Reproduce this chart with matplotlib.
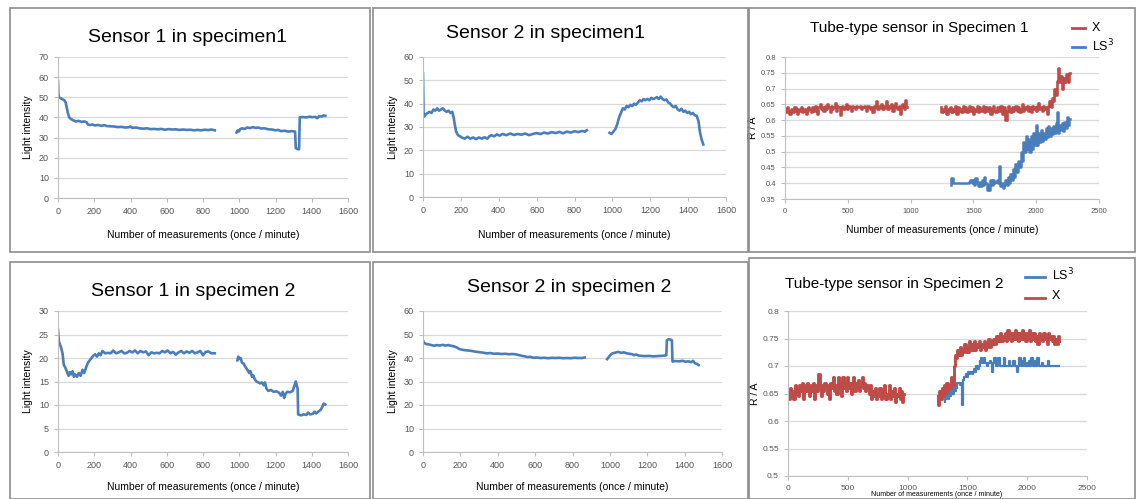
import numpy as np
import matplotlib.pyplot as plt
from matplotlib.patches import Rectangle

plt.rcParams['font.family'] = ['Liberation Sans', 'DejaVu Sans']

BLUE = '#4a7ebb'
RED = '#be4b48'

# ---- Sensor 1 in specimen1  (measurement no., light intensity)
s11_seg1 = [(0, 58), (2, 52), (5, 50), (15, 49.5), (25, 49), (35, 48.5), (42, 47.5), (48, 45), (55, 42), (62, 40),
            (72, 39.2), (85, 38.5), (100, 38), (115, 38.3), (130, 37.8), (145, 38), (158, 37.6), (165, 36.5),
            (175, 36.2), (190, 36.5), (205, 36), (220, 36.3), (240, 35.8), (255, 36.2), (270, 35.7), (290, 35.6),
            (310, 35.5), (330, 35.2), (350, 35.3), (370, 35), (390, 35.1), (400, 35.5), (410, 34.8), (430, 35),
            (450, 34.6), (470, 34.4), (490, 34.6), (510, 34.2), (530, 34.3), (550, 34.1), (570, 34.3), (590, 33.9),
            (610, 34.2), (630, 34), (650, 34.1), (670, 33.8), (690, 34), (710, 33.8), (730, 33.9), (750, 33.6),
            (770, 33.8), (790, 33.6), (810, 33.9), (830, 33.7), (845, 34), (865, 33.6)]
s11_seg2 = [(985, 32.5), (990, 33.5), (998, 33), (1005, 34.2), (1015, 34.6), (1030, 34.3), (1045, 35), (1060, 34.7),
            (1075, 35.2), (1090, 34.8), (1105, 35), (1120, 34.5), (1140, 34.6), (1160, 34.1), (1180, 34),
            (1200, 33.6), (1215, 33.8), (1230, 33.2), (1250, 33.4), (1270, 33), (1290, 33.2), (1308, 33),
            (1312, 24.8), (1320, 24.3), (1330, 24.2), (1334, 40), (1350, 40.2), (1370, 40), (1390, 40.4),
            (1400, 40.1), (1420, 40.3), (1430, 39.6), (1440, 40.6), (1455, 40.5), (1465, 41), (1475, 40.8)]

# ---- Sensor 2 in specimen1
s21_seg1 = [(0, 53), (3, 35), (8, 34.5), (15, 35.5), (25, 36), (35, 36.5), (45, 36), (55, 37.5), (65, 37), (75, 38),
            (85, 37), (95, 37.5), (105, 38), (115, 37), (125, 36.5), (135, 37), (145, 36), (155, 36.5), (162, 34),
            (168, 31), (175, 28), (185, 26.5), (195, 26), (205, 25.5), (220, 25), (235, 25.8), (250, 25),
            (265, 25.5), (280, 24.8), (295, 25.5), (310, 25), (325, 25.6), (340, 25), (350, 26), (360, 26.5),
            (375, 26), (390, 26.8), (405, 26.3), (420, 27), (440, 26.5), (460, 27.2), (480, 26.6), (500, 27),
            (520, 26.7), (540, 27.2), (560, 26.5), (580, 27), (600, 27.4), (620, 27), (640, 27.6), (660, 27.2),
            (680, 27.8), (700, 27.4), (720, 27.9), (740, 27.3), (760, 28), (780, 27.6), (800, 28.2), (820, 27.8),
            (840, 28.3), (855, 28), (865, 28.6)]
s21_seg2 = [(985, 27.5), (995, 27), (1005, 28), (1015, 29), (1025, 31), (1035, 34), (1045, 36), (1055, 38),
            (1065, 37.5), (1075, 39), (1085, 38.5), (1095, 39.5), (1105, 39), (1115, 40), (1125, 39.5),
            (1135, 40.5), (1145, 41.5), (1155, 41), (1165, 42), (1175, 41.5), (1185, 42), (1195, 41.5),
            (1205, 42.5), (1215, 42), (1225, 42.3), (1235, 42.8), (1245, 42), (1255, 43), (1265, 42),
            (1275, 41.5), (1285, 41.8), (1295, 40.5), (1305, 40), (1315, 39), (1325, 38.5), (1335, 39),
            (1345, 37.5), (1355, 37), (1365, 37.8), (1375, 36.5), (1385, 37), (1395, 36), (1405, 36.5),
            (1415, 35.5), (1425, 36), (1435, 35), (1445, 34.8), (1455, 32.5), (1462, 28), (1470, 25), (1480, 22.5)]

# ---- Sensor 1 in specimen 2
s12_seg1 = [(0, 26), (5, 23.5), (15, 22.5), (25, 21), (32, 18.5), (40, 18), (50, 17), (58, 16.2), (65, 17),
            (72, 16.5), (80, 17.2), (88, 16), (95, 16.5), (105, 16), (115, 16.8), (125, 16.2), (135, 17.5),
            (145, 16.8), (155, 18), (165, 19), (175, 19.5), (185, 20), (195, 20.5), (205, 20.8), (215, 20.3),
            (225, 21), (235, 20.6), (245, 21.5), (260, 21), (275, 21.1), (290, 21), (305, 21.6), (320, 21),
            (335, 21.2), (350, 21.5), (365, 21), (380, 21.1), (395, 21.5), (410, 21.2), (425, 21.6), (440, 21),
            (455, 21.5), (470, 21.2), (485, 21.4), (500, 20.6), (515, 21.2), (530, 21), (545, 21.1), (560, 21),
            (575, 21.5), (590, 21.2), (605, 21.6), (620, 21), (635, 21.3), (650, 20.7), (665, 21.2), (680, 21.5),
            (695, 21), (710, 21.4), (725, 21.1), (740, 21.5), (755, 21), (770, 21.2), (785, 21.5), (800, 20.6),
            (815, 21.3), (830, 21.4), (845, 21), (865, 21)]
s12_seg2 = [(990, 19.5), (995, 20.3), (1000, 19.8), (1008, 20), (1015, 19), (1025, 18.8), (1035, 18), (1045, 17.5),
            (1055, 16.8), (1062, 17.2), (1070, 16), (1078, 16.3), (1085, 15.5), (1095, 15), (1105, 14.8),
            (1115, 14.6), (1125, 14.8), (1135, 14.2), (1142, 14.8), (1150, 13.5), (1160, 13), (1175, 13.2),
            (1190, 12.8), (1205, 12.9), (1220, 12.6), (1230, 12), (1240, 12.8), (1248, 11.5), (1256, 12.4),
            (1265, 12.8), (1280, 12.7), (1295, 13), (1305, 14.2), (1312, 15), (1318, 14), (1322, 13.5),
            (1325, 8), (1340, 7.8), (1355, 8), (1370, 7.9), (1380, 8.4), (1390, 8), (1405, 8.1), (1415, 8.6),
            (1425, 8.2), (1440, 8.7), (1450, 9), (1458, 9.6), (1466, 10.3), (1475, 10.1)]

# ---- Sensor 2 in specimen 2
s22_seg1 = [(0, 47.5), (5, 46.5), (15, 46), (30, 45.8), (45, 45.5), (60, 45.2), (75, 45.5), (90, 45.3), (105, 45.6),
            (120, 45.3), (135, 45.5), (150, 45.2), (165, 45), (180, 44.5), (195, 43.8), (210, 43.5), (225, 43.3),
            (240, 43.2), (260, 43), (280, 42.7), (300, 42.5), (320, 42.3), (340, 42), (360, 42.1), (380, 41.8),
            (400, 41.9), (420, 41.7), (440, 41.8), (460, 41.6), (480, 41.7), (500, 41.5), (515, 41.2), (530, 40.9),
            (545, 40.7), (560, 40.4), (575, 40.5), (590, 40.1), (610, 40.2), (630, 40), (650, 40.1), (670, 39.9),
            (690, 40.1), (710, 40), (730, 40.1), (750, 39.9), (770, 40), (790, 39.9), (810, 40.1), (830, 40),
            (850, 40), (865, 40.2)]
s22_seg2 = [(985, 39.5), (995, 40.5), (1005, 41.5), (1015, 42), (1030, 42.3), (1045, 42.6), (1060, 42.2),
            (1075, 42.4), (1090, 42), (1105, 41.8), (1120, 41.6), (1130, 41.2), (1140, 41.5), (1155, 41),
            (1170, 40.9), (1190, 40.8), (1210, 40.9), (1230, 40.7), (1250, 40.8), (1270, 40.9), (1290, 41),
            (1302, 41.2), (1305, 47.5), (1315, 48), (1325, 47.8), (1332, 47.5), (1335, 38.5), (1350, 38.7),
            (1370, 38.6), (1390, 38.8), (1405, 38.4), (1420, 38.6), (1435, 38.2), (1445, 38.8), (1455, 37.8),
            (1465, 37.5), (1475, 37)]

# ---- Tube-type sensor in Specimen 1 (read every 10 measurements)
step = 10
t1_x_start1, t1_x_start2, t1_ls_start = 0, 1240, 1320
t1_x_seg1 = [0.635, 0.625, 0.64, 0.63, 0.62, 0.635, 0.63, 0.625, 0.64, 0.63,
             0.62, 0.635, 0.63, 0.64, 0.625, 0.63, 0.635, 0.62, 0.63, 0.64,
             0.635, 0.625, 0.64, 0.63, 0.645, 0.635, 0.62, 0.64, 0.65, 0.635,
             0.64, 0.63, 0.645, 0.635, 0.65, 0.64, 0.625, 0.645, 0.635, 0.64,
             0.655, 0.63, 0.645, 0.64, 0.615, 0.64, 0.645, 0.635, 0.64, 0.65,
             0.635, 0.645, 0.64, 0.63, 0.645, 0.64, 0.635, 0.645, 0.64, 0.64,
             0.645, 0.635, 0.64, 0.645, 0.64, 0.63, 0.645, 0.64, 0.635, 0.64,
             0.625, 0.645, 0.64, 0.66, 0.635, 0.645, 0.64, 0.65, 0.635, 0.645,
             0.64, 0.66, 0.635, 0.645, 0.64, 0.65, 0.63, 0.645, 0.655, 0.64,
             0.635, 0.645, 0.62, 0.64, 0.65, 0.635, 0.665, 0.64]
t1_x_seg2 = [0.64, 0.625, 0.635, 0.63, 0.645, 0.62, 0.635, 0.63, 0.64, 0.625,
             0.635, 0.63, 0.645, 0.62, 0.64, 0.63, 0.635, 0.625, 0.645, 0.63,
             0.64, 0.625, 0.635, 0.645, 0.63, 0.64, 0.62, 0.635, 0.63, 0.645,
             0.625, 0.64, 0.63, 0.635, 0.645, 0.625, 0.64, 0.63, 0.635, 0.64,
             0.62, 0.635, 0.645, 0.63, 0.625, 0.64, 0.635, 0.63, 0.645, 0.62,
             0.635, 0.64, 0.6, 0.63, 0.645, 0.635, 0.625, 0.64, 0.63, 0.635,
             0.645, 0.63, 0.64, 0.625, 0.635, 0.65, 0.63, 0.64, 0.635, 0.645,
             0.63, 0.64, 0.625, 0.645, 0.635, 0.64, 0.63, 0.645, 0.655, 0.635,
             0.64, 0.63, 0.645, 0.635, 0.64, 0.62,
             0.645, 0.66, 0.64, 0.67, 0.66, 0.7, 0.68, 0.725, 0.765, 0.72,
             0.74, 0.70, 0.735, 0.72, 0.745, 0.73, 0.72, 0.75]
t1_ls = [0.395, 0.415, 0.40, 0.40, 0.40, 0.40, 0.40, 0.40, 0.40, 0.40,
         0.40, 0.40, 0.40, 0.40, 0.40, 0.405, 0.41, 0.40, 0.41, 0.395,
         0.415, 0.40, 0.39, 0.405, 0.39, 0.41, 0.395, 0.42, 0.40, 0.38,
         0.395, 0.38, 0.41, 0.395, 0.41, 0.40, 0.405, 0.41, 0.40, 0.455,
         0.39, 0.40, 0.385, 0.395, 0.41, 0.395, 0.42, 0.40, 0.43, 0.41,
         0.445, 0.42, 0.46, 0.435, 0.47, 0.45, 0.50, 0.47, 0.53, 0.50,
         0.55, 0.51, 0.54, 0.50, 0.55, 0.51, 0.56, 0.52, 0.585, 0.52,
         0.56, 0.53, 0.57, 0.535, 0.56, 0.54, 0.575, 0.545, 0.58, 0.55,
         0.575, 0.555, 0.58, 0.56, 0.59, 0.625, 0.56, 0.585, 0.57, 0.59,
         0.565, 0.595, 0.575, 0.61, 0.585, 0.605]

# ---- Tube-type sensor in Specimen 2
t2_x_start1, t2_x_start2, t2_ls_start = 0, 1250, 1310
t2_x_seg1 = [0.65, 0.64, 0.66, 0.645, 0.655, 0.64, 0.665, 0.65, 0.66, 0.645,
             0.665, 0.655, 0.67, 0.64, 0.665, 0.655, 0.67, 0.66, 0.645, 0.665,
             0.655, 0.67, 0.64, 0.66, 0.665, 0.655, 0.685, 0.66, 0.645, 0.665,
             0.655, 0.67, 0.66, 0.65, 0.665, 0.64, 0.67, 0.66, 0.68, 0.655,
             0.665, 0.65, 0.68, 0.66, 0.67, 0.645, 0.68, 0.66, 0.67, 0.655,
             0.68, 0.66, 0.67, 0.65, 0.665, 0.68, 0.655, 0.67, 0.66, 0.675,
             0.655, 0.665, 0.68, 0.66, 0.67, 0.655, 0.665, 0.66, 0.65, 0.665,
             0.64, 0.655, 0.645, 0.66, 0.64, 0.65, 0.645, 0.66, 0.64, 0.655,
             0.645, 0.665, 0.64, 0.65, 0.645, 0.665, 0.64, 0.655, 0.645, 0.66,
             0.635, 0.65, 0.645, 0.66, 0.64, 0.655, 0.635, 0.65]
t2_x_seg2 = [0.645, 0.63, 0.655, 0.64, 0.66, 0.645, 0.665, 0.645, 0.67, 0.65,
             0.665, 0.655, 0.68, 0.66, 0.7, 0.72, 0.715, 0.73, 0.72, 0.735,
             0.72, 0.73, 0.725, 0.74, 0.725, 0.735, 0.725, 0.745, 0.73, 0.74,
             0.73, 0.745, 0.73, 0.74, 0.735, 0.745, 0.73, 0.74, 0.735, 0.745,
             0.73, 0.74, 0.735, 0.75, 0.735, 0.745, 0.74, 0.75, 0.74, 0.755,
             0.745, 0.755, 0.745, 0.76, 0.745, 0.755, 0.75, 0.76, 0.745, 0.765,
             0.75, 0.76, 0.745, 0.76, 0.75, 0.765, 0.75, 0.76, 0.745, 0.76,
             0.75, 0.765, 0.75, 0.76, 0.745, 0.76, 0.75, 0.765, 0.745, 0.76,
             0.75, 0.76, 0.745, 0.755, 0.74, 0.76, 0.75, 0.755, 0.745, 0.76,
             0.75, 0.755, 0.74, 0.76, 0.75, 0.755, 0.745, 0.755, 0.74, 0.75,
             0.74, 0.755, 0.745]
t2_ls = [0.635, 0.64, 0.645, 0.64, 0.65, 0.645, 0.655, 0.65, 0.66, 0.655,
         0.66, 0.67, 0.67, 0.665, 0.67, 0.63, 0.675, 0.68, 0.685, 0.68,
         0.69, 0.685, 0.69, 0.685, 0.69, 0.695, 0.69, 0.7, 0.695, 0.7,
         0.71, 0.715, 0.705, 0.715, 0.705, 0.705, 0.7, 0.705, 0.71, 0.705,
         0.69, 0.705, 0.715, 0.7, 0.7, 0.715, 0.715, 0.7, 0.7, 0.7,
         0.715, 0.7, 0.7, 0.7, 0.71, 0.7, 0.7, 0.7, 0.71, 0.7,
         0.7, 0.69, 0.7, 0.715, 0.7, 0.71, 0.7, 0.715, 0.7, 0.705,
         0.7, 0.71, 0.7, 0.715, 0.7, 0.7, 0.71, 0.7, 0.715, 0.7,
         0.7, 0.7, 0.705, 0.7, 0.7, 0.7, 0.7, 0.71, 0.7, 0.7,
         0.7, 0.7, 0.7, 0.7, 0.7, 0.7, 0.7]

XLABEL = 'Number of measurements (once / minute)'

W, H = 1137, 499
fig = plt.figure(figsize=(W / 100, H / 100), dpi=100)


def px_axes(left, top, right, bottom):
    return fig.add_axes([left / W, 1 - bottom / H, (right - left) / W, (bottom - top) / H])


def frame(left, top, right, bottom):
    fig.patches.append(Rectangle((left / W, 1 - bottom / H), (right - left) / W, (bottom - top) / H,
                                 transform=fig.transFigure, fill=False, edgecolor='#8c8c8c', lw=1.2))


def style(ax, xmax, xstep, ymin, ymax, ystep, yfmt=None):
    ax.set_xlim(0, xmax)
    ax.set_ylim(ymin, ymax)
    ax.set_xticks(np.arange(0, xmax + 1, xstep))
    yt = np.arange(ymin, ymax + ystep / 2, ystep)
    ax.set_yticks(yt)
    if yfmt:
        ax.set_yticklabels([yfmt(v) for v in yt])
    ax.grid(axis='y', color='#d9d9d9', lw=0.9)
    ax.set_axisbelow(True)
    for s in ['top', 'right']:
        ax.spines[s].set_visible(False)
    for s in ['left', 'bottom']:
        ax.spines[s].set_color('#bfbfbf')
    ax.tick_params(labelsize=6.5, labelcolor='#555555', color='#bfbfbf', length=3, width=0.8)


def fmt(v):
    return ('%.2f' % v).rstrip('0').rstrip('.')


def fig_line(x0, x1, y, color):
    fig.lines.append(plt.Line2D([x0 / W, x1 / W], [1 - y / H, 1 - y / H], color=color, lw=2,
                                transform=fig.transFigure))


frames = [(10, 8, 370, 252), (373, 8, 748, 252), (749, 8, 1135, 252),
          (10, 262, 370, 499), (373, 262, 748, 499), (749, 258, 1135, 499)]
for f in frames:
    frame(*f)

sensor_panels = [
    ((58, 57, 348, 198), 'Sensor 1 in specimen1', (188, 37), 70, 10, s11_seg1, s11_seg2, 235),
    ((423, 57, 726, 197), 'Sensor 2 in specimen1', (546, 33), 60, 10, s21_seg1, s21_seg2, 235),
    ((58, 311, 348, 452), 'Sensor 1 in specimen 2', (193, 292), 30, 5, s12_seg1, s12_seg2, 487),
    ((423, 311, 722, 452), 'Sensor 2 in specimen 2', (569, 288), 60, 10, s22_seg1, s22_seg2, 487),
]
for box, title, tpos, ymax, ystep, seg1, seg2, xl_y in sensor_panels:
    ax = px_axes(*box)
    for seg in (seg1, seg2):
        xs, ys = zip(*seg)
        ax.plot(xs, ys, color=BLUE, lw=1.9)
    style(ax, 1600, 200, 0, ymax, ystep)
    ax.set_ylabel('Light intensity', fontsize=7.5, labelpad=4)
    fig.text(tpos[0] / W, 1 - tpos[1] / H, title, ha='center', va='center', fontsize=14)
    fig.text((box[0] + box[2]) / 2 / W, 1 - xl_y / H, XLABEL, ha='center', va='center', fontsize=7.5)

# Tube-type sensor, specimen 1
ax = px_axes(785, 57, 1099, 199)
ax.plot(t1_x_start1 + step * np.arange(len(t1_x_seg1)), t1_x_seg1, color=RED, lw=1.9, drawstyle='steps-mid')
ax.plot(t1_x_start2 + step * np.arange(len(t1_x_seg2)), t1_x_seg2, color=RED, lw=1.9, drawstyle='steps-mid')
ax.plot(t1_ls_start + step * np.arange(len(t1_ls)), t1_ls, color=BLUE, lw=1.8, drawstyle='steps-mid')
style(ax, 2500, 500, 0.35, 0.8, 0.05, fmt)
ax.tick_params(labelsize=5.5)
ax.set_ylabel('R / A', fontsize=7.5, labelpad=2)
fig.text(919 / W, 1 - 28 / H, 'Tube-type sensor in Specimen 1', ha='center', va='center', fontsize=11)
fig.text(942 / W, 1 - 230 / H, XLABEL, ha='center', va='center', fontsize=7.5)
fig_line(1072, 1085, 28, RED)
fig_line(1072, 1085, 47, BLUE)
fig.text(1092 / W, 1 - 28 / H, 'X', ha='left', va='center', fontsize=9)
fig.text(1092 / W, 1 - 46 / H, 'LS$^3$', ha='left', va='center', fontsize=9)

# Tube-type sensor, specimen 2
ax = px_axes(788, 311, 1087, 476)
ax.plot(t2_x_start1 + step * np.arange(len(t2_x_seg1)), t2_x_seg1, color=RED, lw=2.1, drawstyle='steps-mid')
ax.plot(t2_x_start2 + step * np.arange(len(t2_x_seg2)), t2_x_seg2, color=RED, lw=2.1, drawstyle='steps-mid')
ax.plot(t2_ls_start + step * np.arange(len(t2_ls)), t2_ls, color=BLUE, lw=1.6, drawstyle='steps-mid')
style(ax, 2500, 500, 0.5, 0.8, 0.05, fmt)
ax.tick_params(labelsize=6)
ax.set_ylabel('R / A', fontsize=7.5, labelpad=2)
fig.text(894 / W, 1 - 284 / H, 'Tube-type sensor in Specimen 2', ha='center', va='center', fontsize=11)
fig.text(937 / W, 1 - 495 / H, XLABEL, ha='center', va='center', fontsize=5)
fig_line(1025, 1045, 277, BLUE)
fig_line(1025, 1045, 298, RED)
fig.text(1052 / W, 1 - 275 / H, 'LS$^3$', ha='left', va='center', fontsize=9)
fig.text(1052 / W, 1 - 296 / H, 'X', ha='left', va='center', fontsize=9)

fig.savefig('out.png', dpi=100)
